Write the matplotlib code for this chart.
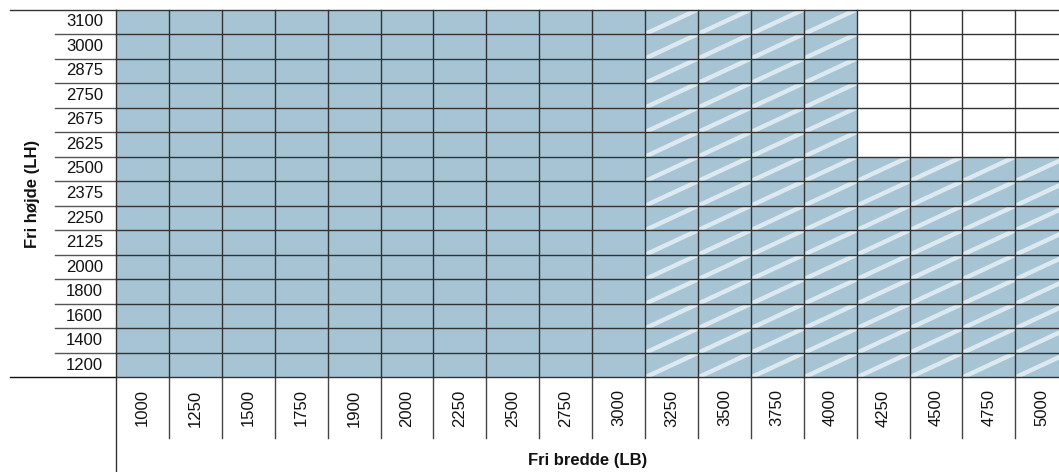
import matplotlib
matplotlib.use('Agg')
import matplotlib.pyplot as plt
from matplotlib.patches import Rectangle

# ---- data ----
widths = [1000, 1250, 1500, 1750, 1900, 2000, 2250, 2500, 2750, 3000,
          3250, 3500, 3750, 4000, 4250, 4500, 4750, 5000]
heights = [1200, 1400, 1600, 1800, 2000, 2125, 2250, 2375, 2500,
           2625, 2675, 2750, 2875, 3000, 3100]
# maximum available height for each width
max_height = [3100] * 14 + [2500] * 4
# widths from this value on are special (hatched)
special_from = 3250

x_title = "Fri bredde (LB)"
y_title = "Fri højde (LH)"

# ---- style ----
plt.rcParams['font.family'] = ['Liberation Sans', 'DejaVu Sans']
cell_color = '#a6c4d4'
stripe_color = '#dde9f0'
line_color = '#333333'
fs = 12

W, H = 1059, 472
fig = plt.figure(figsize=(W / 100, H / 100), dpi=100)
colw, rowh = 52.9, 24.53
left, top = 116, 9.5
ncol, nrow = len(widths), len(heights)
bottom_px = top + nrow * rowh
ax = fig.add_axes([left / W, 1 - bottom_px / H, ncol * colw / W, nrow * rowh / H])
ax.set_xlim(0, ncol)
ax.set_ylim(0, nrow)
ax.axis('off')


def px_x(p):
    return (p - left) / colw


def px_y(p):
    return (bottom_px - p) / rowh


# cells
for i, w in enumerate(widths):
    for j, h in enumerate(heights):
        if h <= max_height[i]:
            rect = Rectangle((i, j), 1, 1, facecolor=cell_color, edgecolor='none', zorder=1)
            ax.add_patch(rect)
            if w >= special_from:
                ln, = ax.plot([i, i + 1], [j, j + 1], color=stripe_color, lw=3.2,
                              solid_capstyle='projecting', zorder=2)
                ln.set_clip_path(rect)

lw = 1.0
# grid lines inside
for i in range(ncol + 1):
    ax.plot([i, i], [0, nrow], color=line_color, lw=lw, zorder=3, clip_on=False)
for j in range(nrow + 1):
    ax.plot([0, ncol], [j, j], color=line_color, lw=lw, zorder=3, clip_on=False)

# row separators in label area
for j in range(1, nrow):
    ax.plot([px_x(55), 0], [j, j], color='#555555', lw=lw, clip_on=False)
# top and bottom long lines
ax.plot([px_x(10), 0], [nrow, nrow], color=line_color, lw=lw, clip_on=False)
ax.plot([px_x(10), 0], [0, 0], color='#111111', lw=lw, clip_on=False)
# column separators below grid
for i in range(1, ncol + 1):
    ax.plot([i, i], [0, px_y(438)], color='#444444', lw=lw, clip_on=False)
# left vertical line
ax.plot([0, 0], [0, px_y(472)], color=line_color, lw=lw, clip_on=False)

# row labels
for j, h in enumerate(heights):
    ax.text(px_x(103), j + 0.5, str(h), ha='right', va='center', fontsize=fs,
            color='#111111', clip_on=False)
# column labels
for i, w in enumerate(widths):
    ax.text(i + 0.5, px_y(408), str(w), ha='center', va='center', rotation=90,
            fontsize=fs, color='#111111', clip_on=False)

ax.text(px_x(588), px_y(460), x_title, ha='center', va='center', fontsize=fs,
        fontweight='bold', color='#111111')
ax.text(px_x(33), nrow / 2, y_title, ha='center', va='center', rotation=90,
        fontsize=fs, fontweight='bold', color='#111111')

fig.savefig('out.png', dpi=100)
